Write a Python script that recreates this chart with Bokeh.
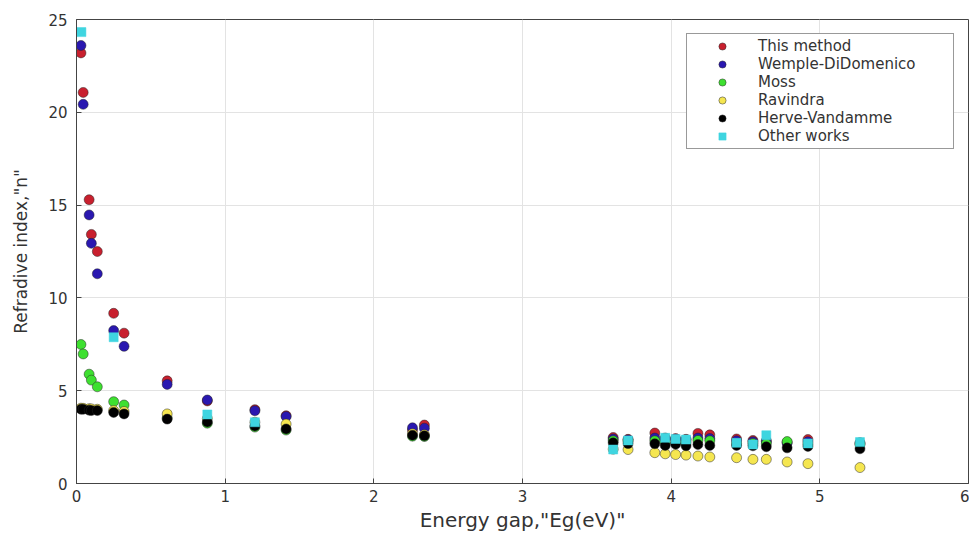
from bokeh.plotting import figure
from bokeh.models import FixedTicker, Range1d, Legend, LegendItem
from bokeh.embed import file_html
from bokeh.resources import INLINE

# ---- data ----
eg = [0.03, 0.045, 0.085, 0.10, 0.14, 0.25, 0.32, 0.61, 0.88, 1.20, 1.41,
      2.26, 2.34, 3.61, 3.71, 3.89, 3.96, 4.03, 4.10, 4.18, 4.26, 4.44,
      4.55, 4.64, 4.78, 4.92, 5.27]
this_method = [23.2, 21.07, 15.29, 13.42, 12.5, 9.17, 8.1, 5.53, 4.45, 3.98, 3.65,
               2.88, 3.15, 2.48, 2.38, 2.72, 2.45, 2.42, 2.38, 2.7, 2.62, 2.4,
               2.32, 2.3, 2.22, 2.37, 2.2]
wemple = [23.6, 20.43, 14.47, 12.94, 11.3, 8.24, 7.39, 5.34, 4.5, 3.92, 3.61,
          3.0, 2.98, 2.4, 2.35, 2.45, 2.4, 2.38, 2.35, 2.45, 2.42, 2.3,
          2.25, 2.25, 2.18, 2.25, 2.15]
moss = [7.49, 6.98, 5.89, 5.57, 5.21, 4.41, 4.23, 3.53, 3.25, 3.04, 2.88,
        2.55, 2.53, 2.3, 2.28, 2.3, 2.22, 2.2, 2.2, 2.32, 2.3, 2.16,
        2.15, 2.14, 2.26, 2.12, 2.1]
ravindra = [4.06, 4.05, 4.03, 4.02, 4.0, 3.93, 3.88, 3.75, 3.5, 3.3, 3.2,
            2.68, 2.63, 1.85, 1.83, 1.66, 1.6, 1.56, 1.53, 1.48, 1.43, 1.39,
            1.3, 1.3, 1.16, 1.07, 0.86]
herve = [4.0, 4.0, 3.95, 3.93, 3.93, 3.83, 3.75, 3.47, 3.31, 3.1, 2.94,
         2.6, 2.57, 2.19, 2.15, 2.14, 2.05, 2.12, 2.03, 2.1, 2.05, 2.05,
         2.03, 1.98, 1.92, 2.0, 1.87]
other_eg = [0.033, 0.25, 0.88, 1.20, 3.61, 3.71, 3.96, 4.03, 4.10, 4.44, 4.55, 4.64, 4.92, 5.27]
other_n = [24.32, 7.88, 3.72, 3.3, 1.83, 2.32, 2.46, 2.4, 2.37, 2.19, 2.1, 2.6, 2.16, 2.23]

x_ticks = [0, 1, 2, 3, 4, 5, 6]
y_ticks = [0, 5, 10, 15, 20, 25]
labels = ["This method", "Wemple-DiDomenico", "Moss", "Ravindra", "Herve-Vandamme", "Other works"]
colors = ["#c8202e", "#2a18b0", "#3ee030", "#f5e650", "#000000", "#3fd5e0"]

FONT = "DejaVu Sans"
TXT = "#333333"
AX = "#444444"

p = figure(width=969, height=534, output_backend="svg", toolbar_location=None,
           x_range=Range1d(0, 6), y_range=Range1d(0, 25),
           min_border_left=76, min_border_top=19, min_border_right=1, min_border_bottom=48)
p.background_fill_color = "white"
p.border_fill_color = "white"
p.outline_line_color = AX
p.outline_line_width = 1

for ax, ticks in ((p.xaxis[0], x_ticks), (p.yaxis[0], y_ticks)):
    ax.ticker = FixedTicker(ticks=ticks)
    ax.major_tick_in = 5
    ax.major_tick_out = 0
    ax.minor_tick_line_color = None
    ax.axis_line_color = AX
    ax.major_tick_line_color = AX
    ax.major_label_text_font = FONT
    ax.major_label_text_font_size = "15px"
    ax.major_label_text_color = TXT
    ax.axis_label_text_font = FONT
    ax.axis_label_text_font_style = "normal"
    ax.axis_label_text_color = TXT

p.xaxis[0].axis_label = 'Energy gap,"Eg(eV)"'
p.xaxis[0].axis_label_text_font_size = "20px"
p.xaxis[0].major_label_standoff = 6
p.xaxis[0].axis_label_standoff = 3
p.yaxis[0].axis_label = 'Refradive index,"n"'
p.yaxis[0].axis_label_text_font_size = "17px"
p.yaxis[0].major_label_standoff = 9
p.yaxis[0].axis_label_standoff = 14

p.xgrid.ticker = FixedTicker(ticks=x_ticks)
p.ygrid.ticker = FixedTicker(ticks=y_ticks)
p.xgrid.grid_line_color = "#e3e3e3"
p.ygrid.grid_line_color = "#e3e3e3"

series = [this_method, wemple, moss, ravindra, herve]
renderers = []
for vals, col in zip(series, colors[:5]):
    r = p.scatter(eg, vals, marker="circle", size=10, fill_color=col,
                  line_color="#222222", line_width=0.6, line_alpha=0.8)
    renderers.append(r)
r = p.scatter(other_eg, other_n, marker="square", size=9, fill_color=colors[5],
              line_color=colors[5], line_width=0.5)
renderers.append(r)

legend = Legend(items=[LegendItem(label=l, renderers=[rr]) for l, rr in zip(labels, renderers)],
                location="top_right")
legend.margin = 14
legend.padding = 3
legend.spacing = 0
legend.glyph_height = 18
legend.label_height = 18
legend.glyph_width = 64
legend.label_standoff = 4
legend.label_width = 192
legend.label_text_font = FONT
legend.label_text_font_size = "15px"
legend.label_text_color = TXT
legend.border_line_color = "#333333"
legend.border_line_width = 1
legend.background_fill_color = "white"
legend.background_fill_alpha = 1
p.add_layout(legend, "center")

open("out.html", "w").write(file_html(p, INLINE))
